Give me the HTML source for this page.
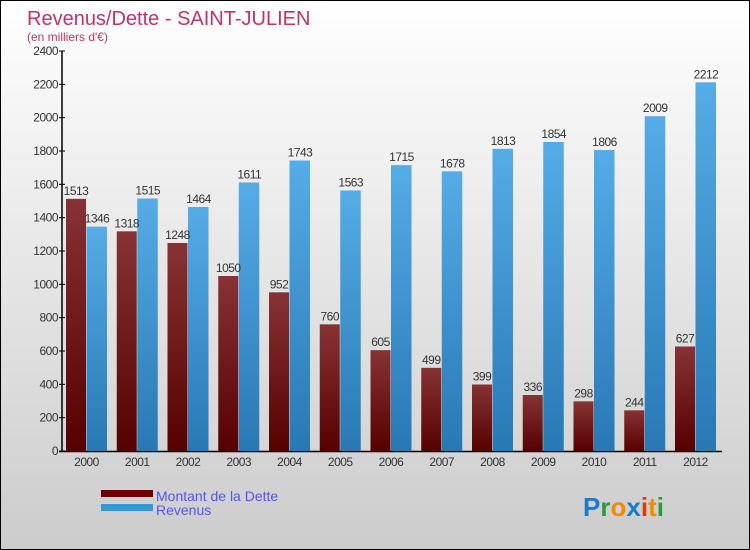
<!DOCTYPE html>
<html><head><meta charset="utf-8"><style>
body{margin:0}
#c{width:750px;height:550px;position:relative;box-sizing:border-box;border:1px solid #000;background:linear-gradient(#fff,#ccc);font-family:"Liberation Sans",sans-serif;overflow:hidden}
text{font-family:"Liberation Sans",sans-serif}
</style></head><body>
<div id="c">
<svg id="s" width="750" height="550">
<defs>
<linearGradient id="gd" x1="0" y1="0" x2="0" y2="1"><stop offset="0" stop-color="#873234"/><stop offset="1" stop-color="#560000"/></linearGradient>
<linearGradient id="gr" x1="0" y1="0" x2="0" y2="1"><stop offset="0" stop-color="#56ace6"/><stop offset="1" stop-color="#2878b4"/></linearGradient>
</defs>
<text x="26" y="24" font-size="20" fill="#c0336a">Revenus/Dette - SAINT-JULIEN</text>
<text x="26" y="40" font-size="12" fill="#c0336a">(en milliers d'€)</text>
<g id="g"></g>
<rect x="100" y="489" width="52" height="7" fill="#6e0000"/>
<rect x="100" y="503" width="52" height="7" fill="#3399dd"/>
<text x="155" y="500" font-size="14" fill="#5555ee">Montant de la Dette</text>
<text x="155" y="514" font-size="14" fill="#5555ee">Revenus</text>
<text x="582" y="515" font-size="26" font-weight="bold"><tspan fill="#1a7ad0">P</tspan><tspan fill="#2a9a3a">r</tspan><tspan fill="#f08a00">o</tspan><tspan fill="#1a7ad0">x</tspan><tspan fill="#e03a00">i</tspan><tspan fill="#f08a00">t</tspan><tspan fill="#2a9a3a">i</tspan></text>
</svg>
</div>
<script>
const years=["2000","2001","2002","2003","2004","2005","2006","2007","2008","2009","2010","2011","2012"];
const debt=[1513,1318,1248,1050,952,760,605,499,399,336,298,244,627];
const revenue=[1346,1515,1464,1611,1743,1563,1715,1678,1813,1854,1806,2009,2212];
const ticks=[0,200,400,600,800,1000,1200,1400,1600,1800,2000,2200,2400];
const NS="http://www.w3.org/2000/svg";
const g=document.getElementById('g');
const y=v=>450-v*400/2400;
const x=i=>65+i*50.75;
function mk(t,a){const e=document.createElementNS(NS,t);for(const k in a)e.setAttribute(k,a[k]);g.appendChild(e);return e;}
const ax=mk('line',{x1:61,y1:50,x2:61,y2:451,stroke:'#000','stroke-width':1.5});


const bx=mk('line',{x1:58,y1:450.5,x2:721,y2:450.5,stroke:'#000','stroke-width':1.5});


ticks.forEach(t=>{
 const l=mk('line',{x1:58,x2:64,y1:y(t),y2:y(t),stroke:'#000'});
 
 
 const tx=mk('text',{x:57,y:y(t)+4,'font-size':12,'text-anchor':'end',fill:'#333','letter-spacing':'-0.5'});
 tx.textContent=t;
 
 
});
years.forEach((yr,i)=>{
 const b1=mk('rect',{x:x(i),y:y(debt[i]),width:20,height:450-y(debt[i]),fill:'url(#gd)'});
 
 
 const b2=mk('rect',{x:x(i)+20.5,y:y(revenue[i]),width:20.5,height:450-y(revenue[i]),fill:'url(#gr)'});
 
 
 const t1=mk('text',{x:x(i)+10,y:y(debt[i])-4,'font-size':12,'text-anchor':'middle',fill:'#333','letter-spacing':'-0.5'});
 t1.textContent=debt[i];
 
 
 const t2=mk('text',{x:x(i)+31,y:y(revenue[i])-4,'font-size':12,'text-anchor':'middle',fill:'#333','letter-spacing':'-0.5'});
 t2.textContent=revenue[i];
 
 
 const t3=mk('text',{x:x(i)+20.5,y:465,'font-size':12,'text-anchor':'middle',fill:'#333','letter-spacing':'-0.5'});
 t3.textContent=yr;
 
 
});
</script>
</body></html>
